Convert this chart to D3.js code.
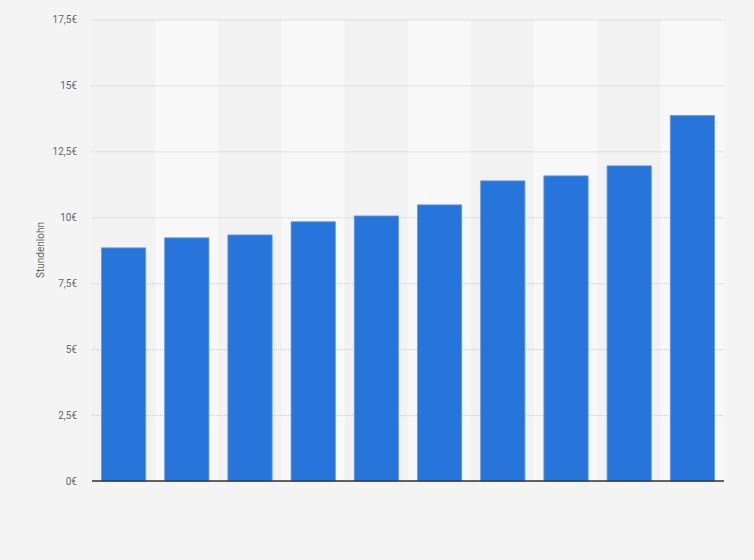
<!DOCTYPE html>
<html>
<head>
<meta charset="utf-8">
<script src="https://cdn.jsdelivr.net/npm/d3@7"></script>
<style>
  html, body { margin: 0; padding: 0; background: #f4f4f4; }
  #chart { width: 754px; height: 560px; }
</style>
</head>
<body>
<div id="chart"></div>
<script>
// chart data (no category labels are shown in the picture)
const categories = ["1", "2", "3", "4", "5", "6", "7", "8", "9", "10"];
const values = [8.84, 9.22, 9.33, 9.83, 10.05, 10.47, 11.38, 11.57, 11.95, 13.86];
const yTicks = [0, 2.5, 5, 7.5, 10, 12.5, 15, 17.5];
const yLabel = "Stundenlohn";

const margin = { top: 19.5, right: 30, bottom: 79, left: 92 };
const width = 754 - margin.left - margin.right;
const height = 560 - margin.top - margin.bottom;

const svg = d3.select("#chart")
    .append("svg")
    .attr("width", 754)
    .attr("height", 560)
    .style("background", "#f4f4f4")
    .append("g")
    .attr("transform", `translate(${margin.left}, ${margin.top})`);

const xScale = d3.scaleBand()
    .domain(categories)
    .range([0, width])
    .paddingInner(0.3)
    .paddingOuter(0.15);

// bands behind the bars: one per category, no padding
const bandScale = d3.scaleBand()
    .domain(categories)
    .range([0, width]);

const yScale = d3.scaleLinear()
    .domain([0, 17.5])
    .range([height, 0]);

svg.selectAll("rect.band")
    .data(categories)
    .enter()
    .append("rect")
    .attr("class", "band")
    .attr("x", d => bandScale(d))
    .attr("y", 0)
    .attr("width", bandScale.bandwidth())
    .attr("height", height)
    .attr("fill", (d, i) => i % 2 === 0 ? "#f2f2f2" : "#f8f8f8");

// y axis with dotted grid lines
const fmt = d => String(d).replace(".", ",") + "€";
const yAxis = d3.axisLeft(yScale)
    .tickValues(yTicks)
    .tickSize(-width)
    .tickPadding(15)
    .tickFormat(fmt);

const yg = svg.append("g").call(yAxis);
yg.select(".domain").remove();
yg.selectAll(".tick line")
    .attr("stroke", "#c8c8c8")
    .attr("stroke-dasharray", "1,1");
yg.selectAll(".tick text")
    .attr("fill", "#666")
    .style("font-family", "Roboto, Arial, sans-serif")
    .style("font-size", "10px");

// bars
svg.selectAll("rect.bar")
    .data(values)
    .enter()
    .append("rect")
    .attr("class", "bar")
    .attr("x", (d, i) => xScale(categories[i]))
    .attr("y", d => yScale(d))
    .attr("width", xScale.bandwidth())
    .attr("height", d => height - yScale(d))
    .attr("fill", "#2775db")
    .attr("stroke", "#5d9be6")
    .attr("stroke-width", 0.8);

// baseline
svg.append("line")
    .attr("x1", 0)
    .attr("x2", width)
    .attr("y1", yScale(0))
    .attr("y2", yScale(0))
    .attr("stroke", "#333")
    .attr("stroke-width", 1.5);

// axis title
svg.append("text")
    .attr("transform", `translate(${40 - margin.left}, ${250 - margin.top}) rotate(-90)`)
    .attr("text-anchor", "middle")
    .attr("dy", "0.35em")
    .attr("fill", "#666")
    .style("font-family", "Roboto, Arial, sans-serif")
    .style("font-size", "10px")
    .text(yLabel);
</script>
</body>
</html>
